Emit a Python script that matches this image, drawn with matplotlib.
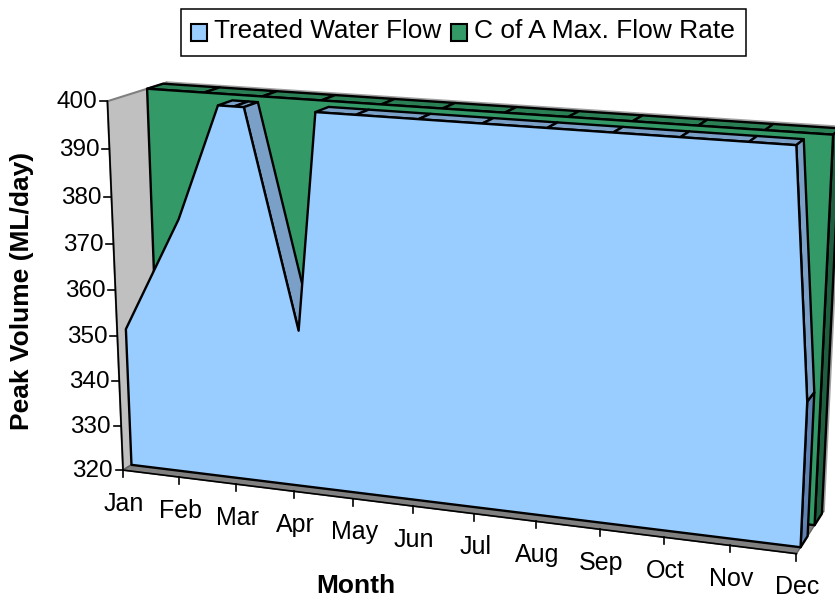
import numpy as np
import matplotlib
matplotlib.use('Agg')
import matplotlib.pyplot as plt
from matplotlib.patches import Polygon, Rectangle

plt.rcParams['font.family'] = ['Liberation Sans', 'DejaVu Sans']

months = ['Jan', 'Feb', 'Mar', 'Apr', 'May', 'Jun', 'Jul', 'Aug', 'Sep', 'Oct', 'Nov', 'Dec']
treated_flow = [350.5, 375.5, 409, 354, 488, 500, 510, 520, 520, 510, 506, 350]
max_flow = [450, 450, 450, 450, 450, 450, 450, 450, 450, 450, 450, 450]
value_ticks = [320, 330, 340, 350, 360, 370, 380, 390, 400]
v_min, v_max = 320, 400

# chart box corners: (month, value, depth) -> pixel position
box_points = [
    ((0, 320, 0), (123, 470)),
    ((0, 400, 0), (107, 102)),
    ((0, 400, 1), (167, 82)),
    ((11, 320, 0), (797, 553)),
    ((11, 320, 1), (823, 512)),
    ((11, 400, 1), (842, 127)),
]


def fit_camera(points):
    rows = []
    for (m, v, d), (px, py) in points:
        p = [m / 11, (v - v_min) / (v_max - v_min), d, 1]
        rows.append(p + [0, 0, 0, 0] + [-px * c for c in p])
        rows.append([0, 0, 0, 0] + p + [-py * c for c in p])
    return np.linalg.svd(np.array(rows))[2][-1].reshape(3, 4)


cam = fit_camera(box_points)


def project(m, v, d):
    h = cam @ np.array([m / 11, (v - v_min) / (v_max - v_min), d, 1])
    return h[0] / h[2], h[1] / h[2]


def clip_series(values):
    xs, vs = [0], [min(values[0], v_max)]
    for i in range(len(values) - 1):
        a, b = values[i], values[i + 1]
        if (a - v_max) * (b - v_max) < 0:
            xs.append(i + (v_max - a) / (b - a))
            vs.append(v_max)
        xs.append(i + 1)
        vs.append(min(b, v_max))
    return xs, vs


fig = plt.figure(figsize=(8.35, 6), dpi=100)
ax = fig.add_axes([0, 0, 1, 1])
ax.set_xlim(0, 835)
ax.set_ylim(600, 0)
ax.axis('off')

lw = 1.7


def face(corners, color, edge='black', width=lw, z=1):
    ax.add_patch(Polygon([project(*c) for c in corners], closed=True, facecolor=color,
                         edgecolor=edge, linewidth=width, joinstyle='round', zorder=z))


# walls and floor
face([(0, 320, 1), (11, 320, 1), (11, 400, 1), (0, 400, 1)], '#C0C0C0', '#A0A0A0', 2)
face([(0, 320, 0), (0, 400, 0), (0, 400, 1), (0, 320, 1)], '#C0C0C0', '#808080', 1.5)
face([(0, 320, 0), (11, 320, 0), (11, 320, 1), (0, 320, 1)], '#808080', '#606060', 1.0)


def draw_series(values, d_front, d_back, front_col, slope_col, cap_col):
    xs, vs = clip_series(values)
    for i in range(len(xs) - 1):
        if vs[i + 1] > vs[i]:
            continue
        face([(xs[i], vs[i], d_back), (xs[i + 1], vs[i + 1], d_back),
              (xs[i + 1], vs[i + 1], d_front), (xs[i], vs[i], d_front)], slope_col)
    face([(11, v_min, d_front), (11, vs[-1], d_front), (11, vs[-1], d_back), (11, v_min, d_back)], cap_col)
    outline = [(0, v_min, d_front)] + [(x, v, d_front) for x, v in zip(xs, vs)] + [(11, v_min, d_front)]
    face(outline, front_col)


draw_series(max_flow, 0.66, 0.94, '#339966', '#2A7F55', '#1F5F40')
draw_series(treated_flow, 0.145, 0.40, '#99CCFF', '#7AA0C8', '#5F82B2')

# value axis
for v in value_ticks:
    x0, y0 = project(0, v, 0)
    ax.plot([x0 - 7, x0], [y0, y0], color='black', lw=1.2, zorder=3)
    ax.text(x0 - 10, y0 + 1, str(v), ha='right', va='center', fontsize=17.5)
x0, y0 = project(0, v_min, 0)
x1, y1 = project(0, v_max, 0)
ax.plot([x0, x1], [y0, y1], color='black', lw=1.2, zorder=3)

# month axis
x0, y0 = project(0, v_min, 0)
x1, y1 = project(11, v_min, 0)
ax.plot([x0, x1], [y0, y1], color='black', lw=1.2, zorder=3)
for i, name in enumerate(months):
    x, y = project(i, v_min, 0)
    ax.plot([x, x], [y, y + 7], color='black', lw=1.2, zorder=3)
    ax.text(x + 1, y + 33.5, name, ha='center', va='center', fontsize=18)

ax.text(356, 586, 'Month', ha='center', va='center', fontsize=19, fontweight='bold')
ax.text(22, 291, 'Peak Volume (ML/day)', ha='center', va='center', rotation=90, fontsize=19, fontweight='bold')

# legend
ax.add_patch(Rectangle((181.3, 8.7), 565, 47.3, facecolor='white', edgecolor='black', lw=1.1, zorder=4))
ax.add_patch(Rectangle((191, 24), 16.3, 16.7, facecolor='#99CCFF', edgecolor='black', lw=1.5, zorder=5))
ax.add_patch(Rectangle((451, 24), 16.3, 16.7, facecolor='#339966', edgecolor='black', lw=1.5, zorder=5))
ax.text(214, 38, 'Treated Water Flow', ha='left', va='baseline', fontsize=18.8, zorder=5)
ax.text(474, 38, 'C of A Max. Flow Rate', ha='left', va='baseline', fontsize=19, zorder=5)

fig.savefig('out.png', dpi=100)
